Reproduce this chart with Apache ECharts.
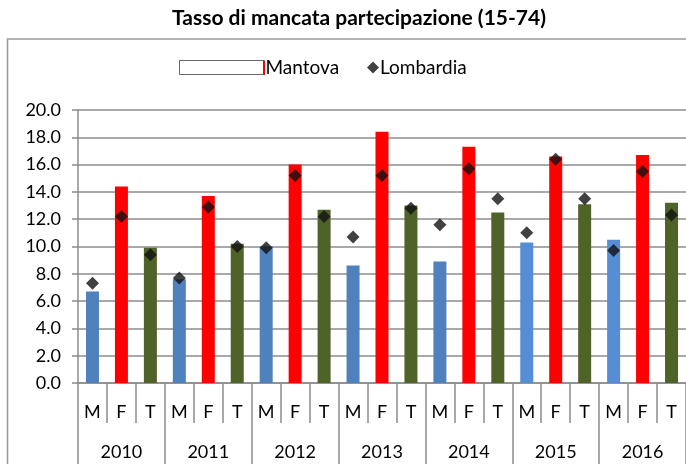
<!DOCTYPE html>
<html>
<head>
<meta charset="utf-8">
<script src="https://cdn.jsdelivr.net/npm/echarts@6/dist/echarts.min.js"></script>
<style>
  html, body { margin: 0; padding: 0; background: #fff; }
  #chart { width: 686px; height: 464px; }
</style>
</head>
<body>
<div id="chart"></div>
<script>
const years = ["2010", "2011", "2012", "2013", "2014", "2015", "2016"];
const groups = ["M", "F", "T"];
const mantova = [
  6.7, 14.4, 9.9,
  7.6, 13.7, 10.2,
  10.0, 16.0, 12.7,
  8.6, 18.4, 13.0,
  8.9, 17.3, 12.5,
  10.3, 16.6, 13.1,
  10.5, 16.7, 13.2,
];
const lombardia = [
  7.3, 12.2, 9.4,
  7.7, 12.9, 10.0,
  9.9, 15.2, 12.2,
  10.7, 15.2, 12.8,
  11.6, 15.7, 13.5,
  11.0, 16.4, 13.5,
  9.7, 15.5, 12.3,
];

const categories = [];
years.forEach(() => groups.forEach((g) => categories.push(g)));

const FONT = "Lato";
const GRAY = "#8c8c8c";
function barColor(idx) {
  const g = idx % 3;
  if (g === 1) return "#ff0000";
  if (g === 2) return "#4f6228";
  return idx >= 15 ? "#558ed5" : "#4f81bd";
}

const chart = echarts.init(document.getElementById("chart"));
chart.setOption({
  animation: false,
  textStyle: { fontFamily: FONT, color: "#000" },
  title: {
    text: "Tasso di mancata partecipazione (15-74)",
    left: 359,
    textAlign: "center",
    top: 8,
    padding: 0,
    textStyle: { fontFamily: FONT, fontWeight: "bold", fontSize: 21, color: "#000" },
  },
  legend: [
    {
      left: 179,
      top: 58,
      padding: 0,
      itemWidth: 85,
      itemHeight: 14,
      icon: "rect",
      textStyle: { fontSize: 19, color: "#000", fontFamily: FONT, padding: [0, 0, 0, -4] },
      data: [{ name: "Mantova", itemStyle: { color: "#fff", borderColor: "#666", borderWidth: 1 } }],
    },
    {
      left: 367,
      top: 58,
      padding: 0,
      itemWidth: 12,
      itemHeight: 12,
      icon: "diamond",
      textStyle: { fontSize: 19, color: "#000", fontFamily: FONT, padding: [0, 0, 0, -4] },
      data: ["Lombardia"],
    },
  ],
  graphic: [
    {
      type: "polyline",
      shape: { points: [[686, 39], [7.5, 39], [7.5, 464]] },
      style: { stroke: "#999", lineWidth: 1.5, fill: null },
    },
    {
      type: "rect",
      shape: { x: 263, y: 61, width: 2, height: 14 },
      style: { fill: "#ff0000" },
      z: 10,
    },
  ],
  grid: { left: 78, right: 0, top: 110, bottom: 81, containLabel: false },
  xAxis: [
    {
      type: "category",
      data: categories,
      position: "bottom",
      axisLine: { lineStyle: { color: GRAY, width: 1.5 } },
      axisTick: { show: true, interval: 0, length: 40, lineStyle: { color: GRAY, width: 1.5 } },
      axisLabel: { interval: 0, margin: 20, fontSize: 18, color: "#000", fontFamily: FONT },
    },
    {
      type: "category",
      data: years,
      position: "bottom",
      axisLine: { show: false },
      axisTick: { show: true, interval: 0, length: 82, lineStyle: { color: GRAY, width: 1.5 } },
      axisLabel: { interval: 0, margin: 60, fontSize: 18, color: "#000", fontFamily: FONT },
    },
  ],
  yAxis: {
    type: "value",
    min: 0,
    max: 20,
    interval: 2,
    axisLine: { show: true, lineStyle: { color: GRAY, width: 1.5 } },
    axisTick: { show: true, length: 6, lineStyle: { color: GRAY, width: 1.5 } },
    axisLabel: {
      margin: 17,
      fontSize: 18,
      color: "#000",
      fontFamily: FONT,
      formatter: (v) => v.toFixed(1),
    },
    splitLine: { lineStyle: { color: GRAY, width: 1.5 } },
  },
  series: [
    {
      name: "Mantova",
      type: "bar",
      xAxisIndex: 0,
      barWidth: 13,
      data: mantova.map((v, i) => ({ value: v, itemStyle: { color: barColor(i) } })),
    },
    {
      name: "Lombardia",
      type: "scatter",
      xAxisIndex: 0,
      symbol: "diamond",
      symbolSize: [13, 13],
      itemStyle: { color: "#111" },
      data: lombardia,
      z: 3,
    },
  ],
});
</script>
</body>
</html>
